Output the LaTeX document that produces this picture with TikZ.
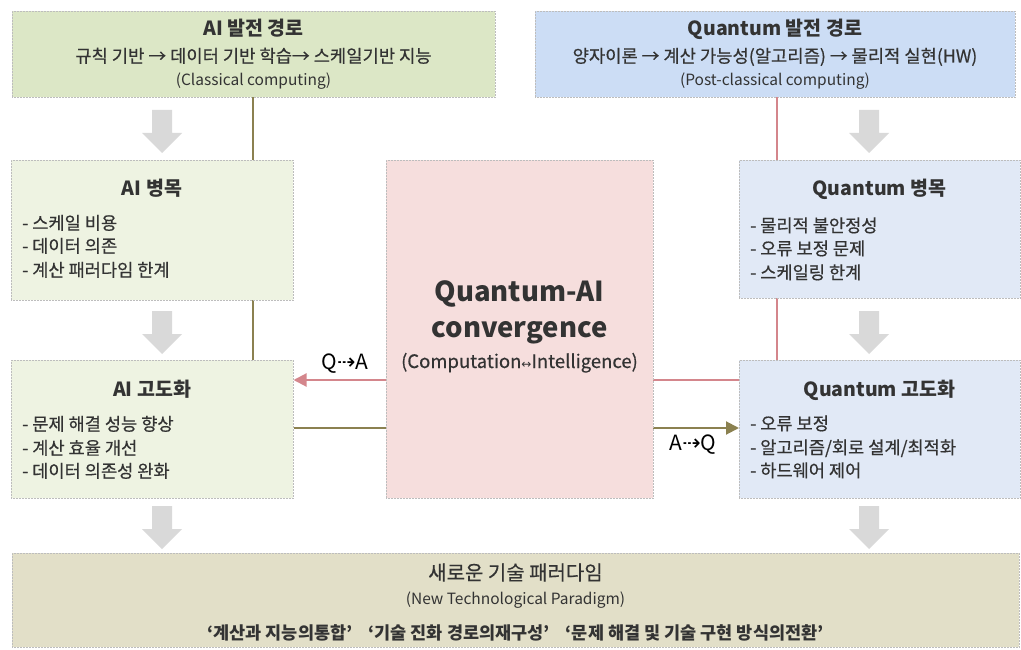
\documentclass[tikz,border=0pt]{standalone}
\usepackage{fontspec}
\setmainfont{Noto Sans CJK KR}
\newfontfamily\medf[FakeBold=0.5]{Noto Sans CJK KR}
\newfontfamily\dvfont{DejaVu Sans}
\usetikzlibrary{arrows.meta}
\definecolor{tlgreen}{HTML}{DCE7C6}
\definecolor{lgreen}{HTML}{EEF3E2}
\definecolor{tlblue}{HTML}{CCDDF5}
\definecolor{lblue}{HTML}{E1E9F6}
\definecolor{cpink}{HTML}{F6DEDD}
\definecolor{bkhaki}{HTML}{E2DFC8}
\definecolor{oliveln}{HTML}{8B8150}
\definecolor{pinkln}{HTML}{D4868C}
\definecolor{txtc}{HTML}{333333}
\definecolor{arrgray}{HTML}{D9D9D9}
\definecolor{bordc}{HTML}{BDBDBD}
\newcommand\fsz[1]{\fontsize{#1}{#1}\selectfont}
\tikzset{
  boxnode/.style={draw=bordc, densely dotted, line width=0.5pt, inner sep=0pt, anchor=north west},
  ttl/.style={text=txtc, inner sep=0pt, anchor=base, font=\fsz{19.5}\bfseries},
  sub/.style={text=txtc, inner sep=0pt, anchor=base, font=\medf\fsz{17.7}},
  note/.style={text=txtc, inner sep=0pt, anchor=base, font=\fsz{15.5}},
  item/.style={text=txtc, inner sep=0pt, anchor=base west, font=\medf\fsz{17.6}},
  flowlbl/.style={text=black, inner sep=0pt, anchor=base, font=\fsz{21}},
  oline/.style={draw=oliveln, line width=2pt},
  pline/.style={draw=pinkln, line width=2pt},
  darr/.pic={\fill[arrgray] (-10,0) -- (10,0) -- (10,23) -- (20,23) -- (0,43) -- (-20,23) -- (-10,23) -- cycle;},
}
\begin{document}
\begin{tikzpicture}[x=1pt,y=-1pt]
\useasboundingbox[fill=white] (0,0) rectangle (1021,650);
% coordinates for connectors
\coordinate (lx) at (253,0);
\coordinate (rx) at (777,0);
\coordinate (py) at (0,380);
\coordinate (oy) at (0,428);
% boxes (geometry only)
\node[boxnode, fill=tlgreen, minimum width=483pt, minimum height=86pt] (tl) at (12,11) {};
\node[boxnode, fill=tlblue, minimum width=480pt, minimum height=86pt] (tr) at (535,11) {};
\node[boxnode, fill=bkhaki, minimum width=1007pt, minimum height=94pt] (bt) at (12,553) {};
% connectors behind boxes
\draw[oline] (lx |- tl.south) -- (lx |- 0,360);
\draw[pline] (rx |- tr.south) -- (rx |- 0,360);
\node[boxnode, fill=lgreen, minimum width=282pt, minimum height=140pt] (ab) at (11,160) {};
\node[boxnode, fill=lgreen, minimum width=282pt, minimum height=138pt] (ae) at (11,360) {};
\node[boxnode, fill=lblue, minimum width=281pt, minimum height=138pt] (qb) at (739,160) {};
\node[boxnode, fill=lblue, minimum width=281pt, minimum height=138pt] (qe) at (739,360) {};
\draw[pline, -{Triangle[length=13pt,width=13pt]}] (qe.west |- py) -- (ae.east |- py);
\draw[oline, -{Triangle[length=13pt,width=13pt]}] (ae.east |- oy) -- (qe.west |- oy);
\node[boxnode, fill=cpink, minimum width=267pt, minimum height=338pt] (cv) at (386,160) {};
% gray flow arrows
\pic at (162,110) {darr};
\pic at (162,311) {darr};
\pic at (162,506) {darr};
\pic at (869,110) {darr};
\pic at (869,311) {darr};
\pic at (869,506) {darr};
% texts top-left
\node[ttl] (tlt) at (253.5,36) {AI 발전 경로};
\node[sub] (tls) at (253.5,62.5) {규칙 기반 → 데이터 기반 학습→ 스케일기반 지능};
\node[note] (tln) at (253.5,85.5) {(Classical computing)};
% texts top-right
\node[ttl] (trt) at (775,36) {Quantum 발전 경로};
\node[sub] (trs) at (775,62.5) {양자이론 → 계산 가능성(알고리즘) → 물리적 실현(HW)};
\node[note] (trn) at (775,85.5) {(Post-classical computing)};
% AI bottleneck
\node[ttl] (abt) at (152,195.5) {AI 병목};
\node[item] (ab1) at (22,229.5) {- 스케일 비용};
\node[item] (ab2) at (22,252.5) {- 데이터 의존};
\node[item] (ab3) at (22,276.5) {- 계산 패러다임 한계};
% AI advancement
\node[ttl] (aet) at (152,396.5) {AI 고도화};
\node[item] (ae1) at (22,430.5) {- 문제 해결 성능 향상};
\node[item] (ae2) at (22,454.5) {- 계산 효율 개선};
\node[item] (ae3) at (22,477.5) {- 데이터 의존성 완화};
% Quantum bottleneck
\node[ttl] (qbt) at (879.5,196) {Quantum 병목};
\node[item] (qb1) at (750,232) {- 물리적 불안정성};
\node[item] (qb2) at (750,255) {- 오류 보정 문제};
\node[item] (qb3) at (750,279) {- 스케일링 한계};
% Quantum advancement
\node[ttl] (qet) at (879.5,396) {Quantum 고도화};
\node[item] (qe1) at (750,430) {- 오류 보정};
\node[item] (qe2) at (750,454) {- 알고리즘/회로 설계/최적화};
\node[item] (qe3) at (750,477) {- 하드웨어 제어};
% center
\node[text=txtc, inner sep=0pt, anchor=base, font=\fsz{27.5}\bfseries] (cv1) at (519.5,301) {Quantum-AI};
\node[text=txtc, inner sep=0pt, anchor=base, font=\fsz{27.5}\bfseries] (cv2) at (519.5,337) {convergence};
\node[text=txtc, inner sep=0pt, anchor=base, font=\medf\fsz{18.5}] (cv3) at (519.5,368) {(Computation{\dvfont\fsz{12}↔}Intelligence)};
% flow labels
\node[flowlbl] (lqa) at (345,369) {Q{\dvfont\fsz{22}⇢}A};
\node[flowlbl] (laq) at (693,450) {A{\dvfont\fsz{22}⇢}Q};
% bottom
\node[text=txtc, inner sep=0pt, anchor=base, font=\medf\fsz{20}] (bt1) at (515.5,580) {새로운 기술 패러다임};
\node[text=txtc, inner sep=0pt, anchor=base, font=\fsz{15.5}] (bt2) at (515.5,604.5) {(New Technological Paradigm)};
\node[text=txtc, inner sep=0pt, anchor=base, font=\fsz{17.5}\bfseries] (bt3) at (515.5,639.5) {‘계산과 지능의통합’\hspace{16pt}‘기술 진화 경로의재구성’\hspace{16pt}‘문제 해결 및 기술 구현 방식의전환’};
\end{tikzpicture}
\end{document}
